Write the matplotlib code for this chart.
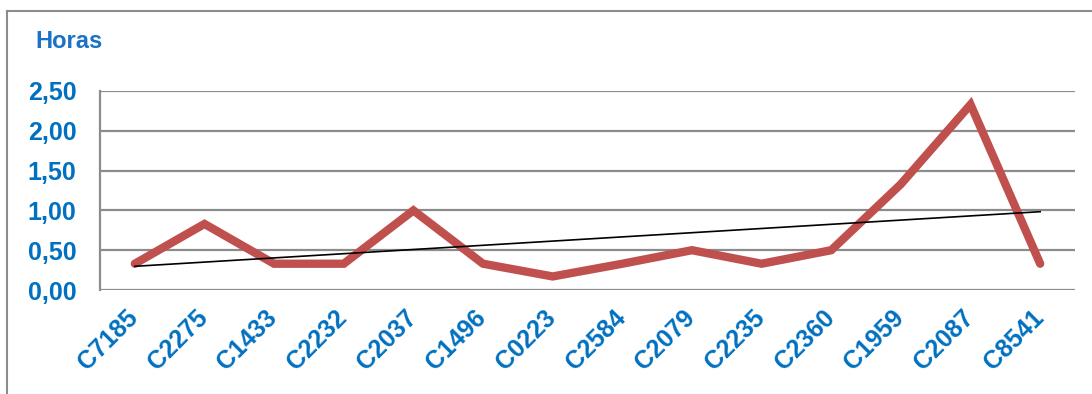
import numpy as np
import matplotlib
matplotlib.use("Agg")
import matplotlib.pyplot as plt
from matplotlib.lines import Line2D
from matplotlib.ticker import FuncFormatter, MultipleLocator
from matplotlib.transforms import ScaledTranslation

plt.rcParams['font.family'] = ['Liberation Sans', 'DejaVu Sans']

codes = ["C7185", "C2275", "C1433", "C2232", "C2037", "C1496", "C0223",
         "C2584", "C2079", "C2235", "C2360", "C1959", "C2087", "C8541"]
horas = [0.33, 0.83, 0.33, 0.33, 1.00, 0.33, 0.17,
         0.33, 0.50, 0.33, 0.50, 1.33, 2.33, 0.33]

blue = "#0070C0"
red = "#C0504D"
grid_gray = "#8C8C8C"

fig = plt.figure(figsize=(10.92, 3.94), dpi=100)
ax = fig.add_axes([100 / 1092, 1 - 290 / 394, 975 / 1092, 199 / 394])

x = np.arange(len(codes))
y = np.array(horas)

ax.plot(x, y, color=red, linewidth=6, solid_capstyle='round',
        solid_joinstyle='miter', zorder=3)

# linear trend
slope, intercept = np.polyfit(x, y, 1)
ax.plot(x, slope * x + intercept, color="black", linewidth=1.2, zorder=4)

ax.set_xlim(-0.5, len(codes) - 0.5)
ax.set_ylim(0, 2.5)
ax.yaxis.set_major_locator(MultipleLocator(0.5))
ax.yaxis.set_major_formatter(FuncFormatter(lambda v, p: f"{v:.2f}".replace(".", ",")))
ax.grid(axis='y', color=grid_gray, linewidth=1.6)
ax.set_axisbelow(True)

for s in ("top", "right", "bottom"):
    ax.spines[s].set_visible(False)
ax.spines["left"].set_color(grid_gray)
ax.spines["left"].set_linewidth(1.6)

ax.set_xticks(x)
ax.set_xticklabels(codes, rotation=45, ha='right', rotation_mode='anchor',
                   color=blue, fontsize=18, fontweight='bold')
ax.tick_params(axis='x', length=0, pad=11)
ax.tick_params(axis='y', length=0, pad=17, labelcolor=blue, labelsize=18)
for lbl in ax.get_yticklabels():
    lbl.set_fontweight('bold')

shift = ScaledTranslation(-0.09, 0, fig.dpi_scale_trans)
for lbl in ax.get_xticklabels():
    lbl.set_transform(lbl.get_transform() + shift)

fig.text(35 / 1092, 1 - 41 / 394, "Horas", color="#1A72C4", fontsize=17,
         fontweight='bold', ha='left', va='center')

# outer frame (top and left edges)
fig.add_artist(Line2D([7 / 1092, 1.0], [1 - 11 / 394, 1 - 11 / 394],
                      transform=fig.transFigure, color=grid_gray, linewidth=1.5))
fig.add_artist(Line2D([7 / 1092, 7 / 1092], [0, 1 - 11 / 394],
                      transform=fig.transFigure, color=grid_gray, linewidth=1.5))

fig.savefig("out.png", dpi=100)
